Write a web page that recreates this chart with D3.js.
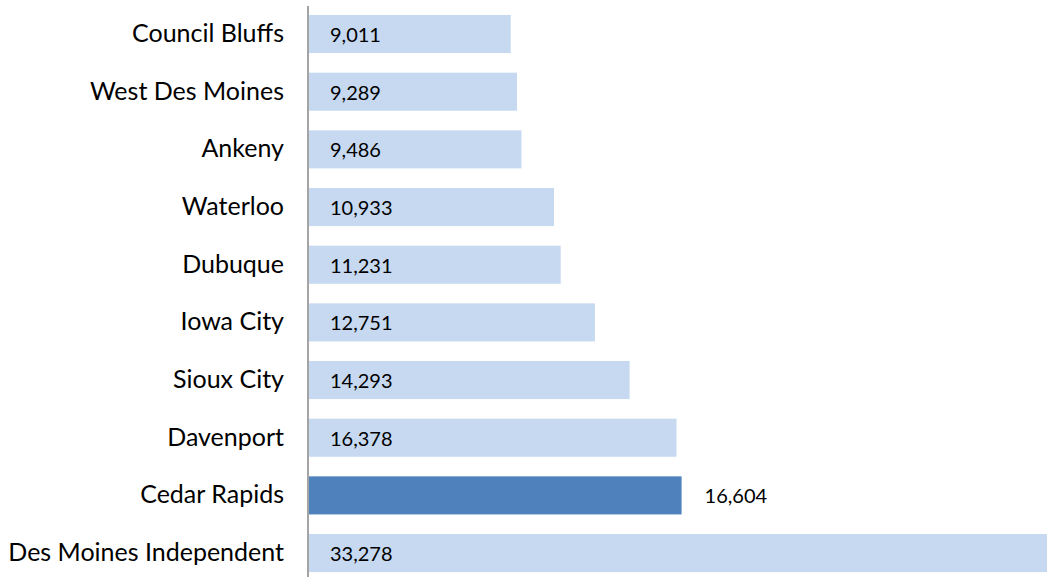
<!DOCTYPE html>
<html>
<head>
<meta charset="utf-8">
<script src="https://cdn.jsdelivr.net/npm/d3@7"></script>
<style>
  html, body { margin: 0; padding: 0; background: #fff; }
  svg { display: block; }
</style>
</head>
<body>
<div id="chart"></div>
<script>
const districts = ['Council Bluffs', 'West Des Moines', 'Ankeny', 'Waterloo', 'Dubuque',
    'Iowa City', 'Sioux City', 'Davenport', 'Cedar Rapids', 'Des Moines Independent']
const enrollment = [9011, 9289, 9486, 10933, 11231, 12751, 14293, 16378, 16604, 33278]
const highlighted = 'Cedar Rapids'

const width = 1047, height = 577
const axisX = 308

const svg = d3.select('#chart').append('svg')
    .attr('width', width).attr('height', height)

const data = districts.map((d, i) => ({ name: d, value: enrollment[i] }))

// scale runs past the right edge, so the biggest bar is cut off like the original
const x = d3.scaleLinear()
    .domain([0, 35000])
    .range([axisX, axisX + 787.5])

const y = d3.scaleBand()
    .domain(districts)
    .range([5.2, 581.9])
    .paddingInner(0.34)
    .paddingOuter(0.17)

const fmt = d3.format(',')
const font = 'Lato, "Open Sans", sans-serif'

// bars
svg.selectAll('.bar')
    .data(data).enter()
    .append('rect')
    .attr('x', x(0) + 1)
    .attr('y', d => y(d.name))
    .attr('width', d => x(d.value) - x(0) - 1)
    .attr('height', y.bandwidth())
    .attr('fill', d => d.name === highlighted ? '#4f81bd' : '#c6d9f1')

// value labels
svg.selectAll('.val')
    .data(data).enter()
    .append('text')
    .attr('x', d => d.name === highlighted ? x(d.value) + 23 : x(0) + 22)
    .attr('y', d => y(d.name) + y.bandwidth() / 2)
    .attr('dominant-baseline', 'central')
    .attr('fill', '#000')
    .attr('font-family', font)
    .attr('font-size', '20px')
    .text(d => fmt(d.value))

// category axis
const yAxis = svg.append('g')
    .attr('transform', `translate(${axisX},0)`)
    .call(d3.axisLeft(y).tickSize(0).tickPadding(24))
yAxis.select('.domain').attr('d', `M0,6V${height}`)
    .attr('stroke', '#868686').attr('stroke-width', 1.5)
yAxis.selectAll('text')
    .attr('fill', '#000')
    .attr('font-family', font)
    .attr('font-size', '25px')
</script>
</body>
</html>
